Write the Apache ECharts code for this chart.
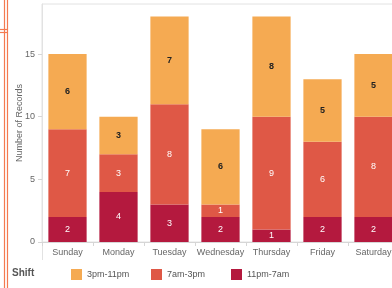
<!DOCTYPE html>
<html>
<head>
<meta charset="utf-8">
<script src="https://cdn.jsdelivr.net/npm/echarts@6/dist/echarts.min.js"></script>
<style>
  html, body { margin: 0; padding: 0; background: #ffffff; }
  #chart { width: 392px; height: 288px; }
</style>
</head>
<body>
<div id="chart"></div>
<script>
const days = ['Sunday', 'Monday', 'Tuesday', 'Wednesday', 'Thursday', 'Friday', 'Saturday']
const night = [2, 4, 3, 2, 1, 2, 2]      // 11pm-7am
const morning = [7, 3, 8, 1, 9, 6, 8]    // 7am-3pm
const evening = [6, 3, 7, 6, 8, 5, 5]    // 3pm-11pm
const yTicks = [0, 5, 10, 15]

const font = 'Arial, "Liberation Sans", sans-serif'
const colors = { evening: '#F5AA52', morning: '#DF5846', night: '#B4193E' }

function seg(name, data, color, labelColor, weight) {
  return {
    name: name,
    type: 'bar',
    stack: 'shift',
    data: data,
    barCategoryGap: '25%',
    itemStyle: { color: color },
    label: {
      show: true,
      position: 'inside',
      color: labelColor,
      fontSize: 9,
      fontWeight: weight,
      fontFamily: font
    }
  }
}

function legendAt(name, left) {
  return {
    data: [name],
    left: left,
    top: 269,
    padding: 0,
    icon: 'rect',
    itemWidth: 11,
    itemHeight: 11,
    selectedMode: false,
    textStyle: { color: '#555', fontSize: 9, fontFamily: font }
  }
}

const chart = echarts.init(document.getElementById('chart'))

// 左侧的橙色双线和短横线，只是截图边缘的装饰。
const edge = '#F47A50'
chart.setOption({
  animation: false,
  grid: {
    left: 42, width: 357, top: 4, bottom: 46,
    outerBoundsMode: 'none',
    show: true, borderColor: '#e2e2e2', borderWidth: 1
  },
  title: {
    text: 'Shift', left: 12, top: 268, padding: 0,
    textStyle: { color: '#555', fontSize: 10, fontWeight: 'bold', fontFamily: font }
  },
  legend: [
    legendAt('3pm-11pm', 71),
    legendAt('7am-3pm', 151),
    legendAt('11pm-7am', 231)
  ],
  xAxis: {
    type: 'category',
    data: days,
    axisLine: { show: true, lineStyle: { color: '#d6d6d6' } },
    axisTick: { show: true, length: 4, lineStyle: { color: '#d6d6d6' } },
    axisLabel: { color: '#666', fontSize: 9, fontFamily: font, margin: 6, interval: 0 }
  },
  yAxis: {
    type: 'value',
    min: 0,
    max: 19,
    interval: 5,
    name: 'Number of Records',
    nameLocation: 'middle',
    nameGap: 18,
    nameMoveOverlap: false,
    nameTextStyle: { color: '#666', fontSize: 9, fontFamily: font },
    splitLine: { show: false },
    axisLine: { show: true, lineStyle: { color: '#e2e2e2' } },
    axisTick: { show: true, length: 4, lineStyle: { color: '#d6d6d6' } },
    axisLabel: {
      color: '#666', fontSize: 9, fontFamily: font, margin: 7,
      showMaxLabel: false,
      formatter: function (v) { return yTicks.indexOf(v) >= 0 ? String(v) : '' }
    }
  },
  series: [
    seg('11pm-7am', night, colors.night, '#ffffff', 'normal'),
    seg('7am-3pm', morning, colors.morning, '#ffffff', 'normal'),
    seg('3pm-11pm', evening, colors.evening, '#222', 'bold')
  ],
  graphic: [
    { type: 'line', shape: { x1: 42.5, y1: 242, x2: 42.5, y2: 260 }, style: { stroke: '#e2e2e2', lineWidth: 1 } },
    { type: 'line', shape: { x1: 4.5, y1: 0, x2: 4.5, y2: 288 }, style: { stroke: edge, lineWidth: 1.2 } },
    { type: 'line', shape: { x1: 7.5, y1: 0, x2: 7.5, y2: 288 }, style: { stroke: edge, lineWidth: 1.2 } },
    { type: 'line', shape: { x1: 0, y1: 29.5, x2: 7.5, y2: 29.5 }, style: { stroke: edge, lineWidth: 1.2 } },
    { type: 'line', shape: { x1: 0, y1: 32.5, x2: 7.5, y2: 32.5 }, style: { stroke: edge, lineWidth: 1.2 } }
  ]
})
</script>
</body>
</html>
